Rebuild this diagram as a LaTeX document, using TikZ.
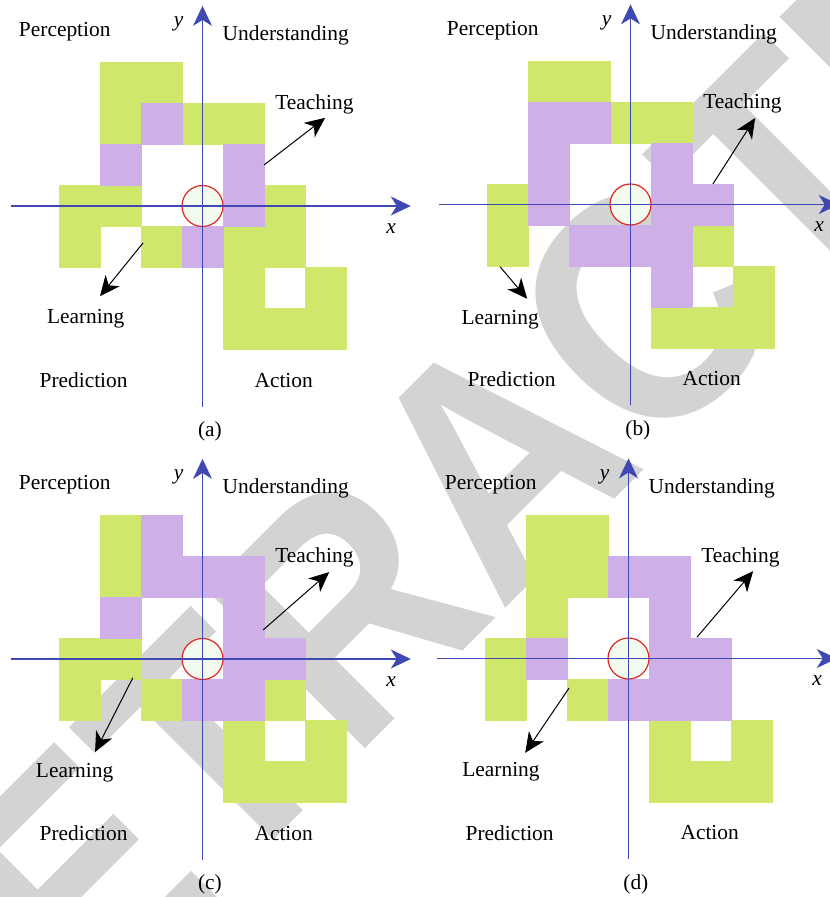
\documentclass[tikz,border=0pt]{standalone}
\usepackage{fontspec}
\setmainfont{Liberation Serif}
\newfontfamily\stampfont{Liberation Sans}
\usetikzlibrary{arrows.meta}
\definecolor{leaf}{RGB}{207,231,106}
\definecolor{lilac}{RGB}{207,175,231}
\definecolor{axisblue}{RGB}{64,72,180}
\definecolor{ringred}{RGB}{222,40,35}
\definecolor{corefill}{RGB}{243,250,238}
\definecolor{stampgrey}{RGB}{211,211,211}
\tikzstyle{lbl} = [font=\fontsize{10.7}{12}\selectfont, inner sep=0pt]
\tikzstyle{cellg} = [fill=leaf, draw=leaf, line width=0.3pt]
\tikzstyle{cellp} = [fill=lilac, draw=lilac, line width=0.3pt]
\tikzstyle{axis} = [draw=axisblue, line width=0.6pt, -{Stealth[length=10pt,width=9.5pt,inset=3pt]}]
\tikzstyle{pointer} = [draw=black, line width=0.5pt, -{Stealth[length=10pt,width=9pt,inset=3pt]}]
\tikzstyle{core} = [circle, draw=ringred, fill=corefill, line width=0.6pt, minimum size=20.5pt, inner sep=0pt]
\tikzstyle{stamp} = [anchor=base, rotate=45, yscale=1.115, inner sep=0pt, text=stampgrey, font=\stampfont\bfseries\fontsize{146}{146}\selectfont]

% axes, centre ring and quadrant names of one panel
\newcommand{\quadframe}[1]{
\node[core] (o#1) at (0,0) {};
\coordinate (xl#1) at (-4.67,0);
\coordinate (xr#1) at (5.08,0);
\coordinate (yb#1) at (0,-4.9);
\coordinate (yt#1) at (0,4.88);
\draw[axis] (xl#1) -- (xr#1);
\draw[axis] (yb#1) -- (yt#1);
\node[lbl] (per#1) at (-3.36,4.24) {Perception};
\node[lbl] (und#1) at (2.03,4.15) {Understanding};
\node[lbl] (tea#1) at (2.73,2.47) {Teaching};
\node[lbl] (pre#1) at (-2.9,-4.25) {Prediction};
\node[lbl] (act#1) at (1.98,-4.25) {Action};
\node[lbl] (y#1) at (-0.58,4.43) {\textit{y}};
\node[lbl] (x#1) at (4.6,-0.55) {\textit{x}};
\node[lbl] (cap#1) at (0.18,-5.5) {(#1)};
}

\begin{document}
\begin{tikzpicture}[x=0.5pt, y=-0.5pt]
\useasboundingbox (0,0) rectangle (829,897);
\node[stamp] (wm) at (575,539) {RETRACTED};

% (a)
\begin{scope}[shift={(202.5,206)}, x=20.5pt, y=20.5pt]
\foreach \i/\j in {-2/3,-1/3,-2/2,0/2,1/2,-3/0,-2/0,2/0,-3/-1,-1/-1,1/-1,2/-1,1/-2,3/-2,1/-3,2/-3,3/-3}
  \path[cellg] (\i-0.5,\j-0.5) rectangle ++(1,1);
\foreach \i/\j in {-1/2,-2/1,1/1,1/0,0/-1}
  \path[cellp] (\i-0.5,\j-0.5) rectangle ++(1,1);
\quadframe{a}
\node[lbl] (learna) at (-2.85,-2.76) {Learning};
\coordinate (ta1) at (1.5,1.0);
\coordinate (ta2) at (2.99,2.15);
\coordinate (la1) at (-1.45,-0.9);
\coordinate (la2) at (-2.5,-2.2);
\draw[pointer] (ta1) -- (ta2);
\draw[pointer] (la1) -- (la2);
\end{scope}

% (b)
\begin{scope}[shift={(630.5,204.5)}, x=20.5pt, y=20.5pt]
\foreach \i/\j in {-2/3,-1/3,0/2,1/2,-3/0,-3/-1,2/-1,3/-2,1/-3,2/-3,3/-3}
  \path[cellg] (\i-0.5,\j-0.5) rectangle ++(1,1);
\foreach \i/\j in {-2/2,-1/2,-2/1,1/1,-2/0,1/0,2/0,-1/-1,0/-1,1/-1,1/-2}
  \path[cellp] (\i-0.5,\j-0.5) rectangle ++(1,1);
\quadframe{b}
\node[lbl] (learnb) at (-3.18,-2.82) {Learning};
\coordinate (tb1) at (2.01,0.5);
\coordinate (tb2) at (3.04,2.11);
\coordinate (lb1) at (-3.18,-1.52);
\coordinate (lb2) at (-2.52,-2.3);
\draw[pointer] (tb1) -- (tb2);
\draw[pointer] (lb1) -- (lb2);
\end{scope}

% (c)
\begin{scope}[shift={(202.5,659)}, x=20.5pt, y=20.5pt]
\foreach \i/\j in {-2/3,-2/2,-3/0,-2/0,-3/-1,-1/-1,2/-1,1/-2,3/-2,1/-3,2/-3,3/-3}
  \path[cellg] (\i-0.5,\j-0.5) rectangle ++(1,1);
\foreach \i/\j in {-1/3,-1/2,0/2,1/2,-2/1,1/1,1/0,2/0,0/-1,1/-1}
  \path[cellp] (\i-0.5,\j-0.5) rectangle ++(1,1);
\quadframe{c}
\node[lbl] (learnc) at (-3.12,-2.78) {Learning};
\coordinate (tc1) at (1.48,0.71);
\coordinate (tc2) at (3.09,2.12);
\coordinate (lc1) at (-1.7,-0.46);
\coordinate (lc2) at (-2.62,-2.27);
\draw[pointer] (tc1) -- (tc2);
\draw[pointer] (lc1) -- (lc2);
\end{scope}

% (d)
\begin{scope}[shift={(628.5,658.5)}, x=20.5pt, y=20.5pt]
\foreach \i/\j in {-2/3,-1/3,-2/2,-1/2,-2/1,-3/0,-3/-1,-1/-1,1/-2,3/-2,1/-3,2/-3,3/-3}
  \path[cellg] (\i-0.5,\j-0.5) rectangle ++(1,1);
\foreach \i/\j in {0/2,1/2,1/1,-2/0,1/0,2/0,0/-1,1/-1,2/-1}
  \path[cellp] (\i-0.5,\j-0.5) rectangle ++(1,1);
\quadframe{d}
\node[lbl] (learnd) at (-3.11,-2.77) {Learning};
\coordinate (td1) at (1.67,0.52);
\coordinate (td2) at (3.04,2.13);
\coordinate (ld1) at (-1.45,-0.72);
\coordinate (ld2) at (-2.52,-2.3);
\draw[pointer] (td1) -- (td2);
\draw[pointer] (ld1) -- (ld2);
\end{scope}
\end{tikzpicture}
\end{document}
